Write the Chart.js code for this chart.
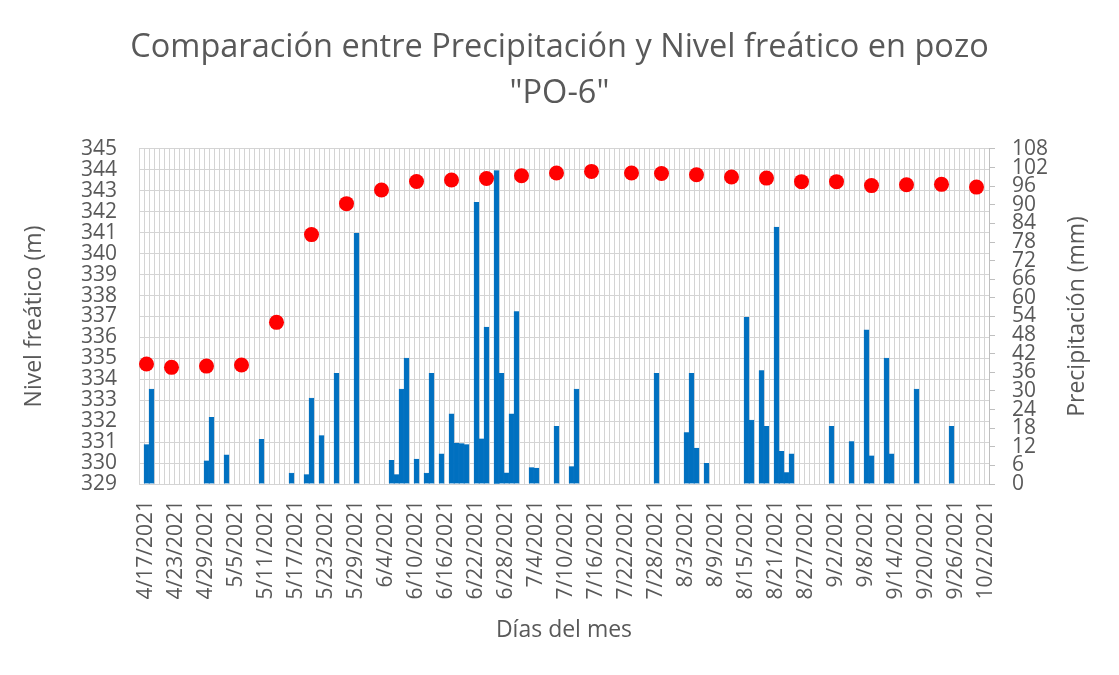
<!DOCTYPE html>
<html lang="es">
<head>
<meta charset="utf-8">
<title>Precipitación y Nivel freático PO-6</title>
<script src="https://cdn.jsdelivr.net/npm/chart.js@4.4.1/dist/chart.umd.min.js"></script>
<style>
    html, body { margin: 0; padding: 0; background: #ffffff; }
    #wrap { width: 1119px; height: 675px; position: relative; }
</style>
</head>
<body>
<div id="wrap"><canvas id="chart" width="1119" height="675"></canvas></div>
<script>
// Axis range (one category per day)
const firstDay = '4/16/2021';
const lastDay = '10/2/2021';

// Labels shown on the date axis
const tickDates = ['4/17/2021', '4/23/2021', '4/29/2021', '5/5/2021', '5/11/2021', '5/17/2021',
    '5/23/2021', '5/29/2021', '6/4/2021', '6/10/2021', '6/16/2021', '6/22/2021', '6/28/2021',
    '7/4/2021', '7/10/2021', '7/16/2021', '7/22/2021', '7/28/2021', '8/3/2021', '8/9/2021',
    '8/15/2021', '8/21/2021', '8/27/2021', '9/2/2021', '9/8/2021', '9/14/2021', '9/20/2021',
    '9/26/2021', '10/2/2021'];

// Precipitación (mm), only days with rain
const rainDates = ['4/17/2021', '4/18/2021', '4/29/2021', '4/30/2021', '5/3/2021', '5/10/2021',
    '5/16/2021', '5/19/2021', '5/20/2021', '5/22/2021', '5/25/2021', '5/29/2021',
    '6/5/2021', '6/6/2021', '6/7/2021', '6/8/2021', '6/10/2021', '6/12/2021', '6/13/2021',
    '6/15/2021', '6/17/2021', '6/18/2021', '6/19/2021', '6/20/2021', '6/22/2021', '6/23/2021',
    '6/24/2021', '6/26/2021', '6/27/2021', '6/28/2021', '6/29/2021', '6/30/2021',
    '7/3/2021', '7/4/2021', '7/8/2021', '7/11/2021', '7/12/2021', '7/28/2021',
    '8/3/2021', '8/4/2021', '8/5/2021', '8/7/2021', '8/15/2021', '8/16/2021', '8/18/2021',
    '8/19/2021', '8/21/2021', '8/22/2021', '8/23/2021', '8/24/2021',
    '9/1/2021', '9/5/2021', '9/8/2021', '9/9/2021', '9/12/2021', '9/13/2021', '9/18/2021',
    '9/25/2021'];
const rainMm = [12.7, 30.6, 7.5, 21.5, 9.4, 14.4,
    3.5, 3.0, 27.7, 15.6, 35.7, 80.8,
    7.6, 3.0, 30.6, 40.6, 8.0, 3.5, 35.7,
    9.7, 22.6, 13.2, 13.0, 12.7, 90.8, 14.6,
    50.6, 101.0, 35.7, 3.6, 22.6, 55.6,
    5.3, 5.1, 18.6, 5.6, 30.6, 35.7,
    16.6, 35.7, 11.6, 6.7, 53.7, 20.6, 36.6,
    18.6, 82.8, 10.5, 3.7, 9.7,
    18.6, 13.7, 49.7, 9.1, 40.6, 9.7, 30.6,
    18.6];

// Nivel freático (m), weekly readings
const levelDates = ['4/17/2021', '4/22/2021', '4/29/2021', '5/6/2021', '5/13/2021', '5/20/2021',
    '5/27/2021', '6/3/2021', '6/10/2021', '6/17/2021', '6/24/2021', '7/1/2021', '7/8/2021',
    '7/15/2021', '7/23/2021', '7/29/2021', '8/5/2021', '8/12/2021', '8/19/2021', '8/26/2021',
    '9/2/2021', '9/9/2021', '9/16/2021', '9/23/2021', '9/30/2021'];
const levelM = [334.73, 334.57, 334.63, 334.68, 336.72, 340.91,
    342.39, 343.04, 343.45, 343.52, 343.59, 343.72, 343.85,
    343.93, 343.85, 343.83, 343.77, 343.66, 343.61, 343.44,
    343.44, 343.25, 343.29, 343.31, 343.18];

const textColor = '#595959';
const gridColor = '#d4d4d4';

function dayList(from, to) {
    const a = from.split('/').map(Number);
    const b = to.split('/').map(Number);
    const d = new Date(Date.UTC(a[2], a[0] - 1, a[1]));
    const end = Date.UTC(b[2], b[0] - 1, b[1]);
    const out = [];
    while (d.getTime() <= end) {
        out.push((d.getUTCMonth() + 1) + '/' + d.getUTCDate() + '/' + d.getUTCFullYear());
        d.setUTCDate(d.getUTCDate() + 1);
    }
    return out;
}

const days = dayList(firstDay, lastDay);
const rainSeries = days.map(day => {
    const k = rainDates.indexOf(day);
    return k >= 0 ? rainMm[k] : null;
});
const levelSeries = days.map(day => {
    const k = levelDates.indexOf(day);
    return k >= 0 ? levelM[k] : null;
});

// Right axis title reads bottom-to-top like the left one
const rightTitle = {
    id: 'rightTitle',
    afterDraw(chart) {
        const ctx = chart.ctx;
        const area = chart.chartArea;
        ctx.save();
        ctx.translate(1077, (area.top + area.bottom) / 2);
        ctx.rotate(-Math.PI / 2);
        ctx.font = '23px "Open Sans"';
        ctx.fillStyle = textColor;
        ctx.textAlign = 'center';
        ctx.textBaseline = 'middle';
        ctx.fillText('Precipitación (mm)', 0, 0);
        ctx.restore();
    }
};

Chart.defaults.font.family = '"Open Sans", sans-serif';
Chart.defaults.color = textColor;

new Chart(document.getElementById('chart'), {
    data: {
        labels: days,
        datasets: [
            {
                type: 'line',
                label: 'Nivel freático (m)',
                data: levelSeries,
                yAxisID: 'y',
                showLine: false,
                pointRadius: 7.5,
                pointBorderWidth: 0,
                pointBackgroundColor: '#ff0000',
                order: 0
            },
            {
                type: 'bar',
                label: 'Precipitación (mm)',
                data: rainSeries,
                yAxisID: 'y1',
                backgroundColor: '#0070c0',
                borderColor: '#0070c0',
                borderWidth: 0.4,
                barPercentage: 1,
                categoryPercentage: 1,
                order: 1
            }
        ]
    },
    options: {
        responsive: false,
        devicePixelRatio: 1,
        animation: false,
        layout: { padding: 0 },
        plugins: {
            legend: { display: false },
            tooltip: { enabled: false },
            title: {
                display: true,
                text: ['Comparación entre Precipitación y Nivel freático en pozo', '"PO-6"'],
                color: textColor,
                font: { size: 32.5, weight: 'normal', lineHeight: 1.415 },
                padding: { top: 25, bottom: 32 }
            }
        },
        scales: {
            x: {
                type: 'category',
                offset: true,
                grid: { color: gridColor, offset: true, drawTicks: false },
                border: { color: gridColor },
                ticks: {
                    autoSkip: false,
                    minRotation: 90,
                    maxRotation: 90,
                    padding: 16,
                    font: { size: 21 },
                    callback: function(value) {
                        const lbl = this.getLabelForValue(value);
                        return tickDates.includes(lbl) ? lbl : '';
                    }
                },
                title: {
                    display: true,
                    text: 'Días del mes',
                    font: { size: 23 },
                    padding: { top: 0, bottom: 31 }
                },
                afterFit: function(scale) { scale.height = 191; }
            },
            y: {
                position: 'left',
                min: 329,
                max: 345,
                grid: { color: gridColor, drawTicks: false },
                border: { display: false },
                ticks: { stepSize: 1, autoSkip: false, padding: 22, font: { size: 21 } },
                title: {
                    display: true,
                    text: 'Nivel freático (m)',
                    font: { size: 23 },
                    padding: { top: 21 }
                },
                afterFit: function(scale) { scale.width = 139; }
            },
            y1: {
                position: 'right',
                min: 0,
                max: 108,
                grid: { drawOnChartArea: false, color: '#bfbfbf', tickLength: 6 },
                border: { color: '#bfbfbf' },
                ticks: { stepSize: 6, autoSkip: false, padding: 17, font: { size: 21 } },
                afterFit: function(scale) { scale.width = 130; }
            }
        }
    },
    plugins: [rightTitle]
});
</script>
</body>
</html>
